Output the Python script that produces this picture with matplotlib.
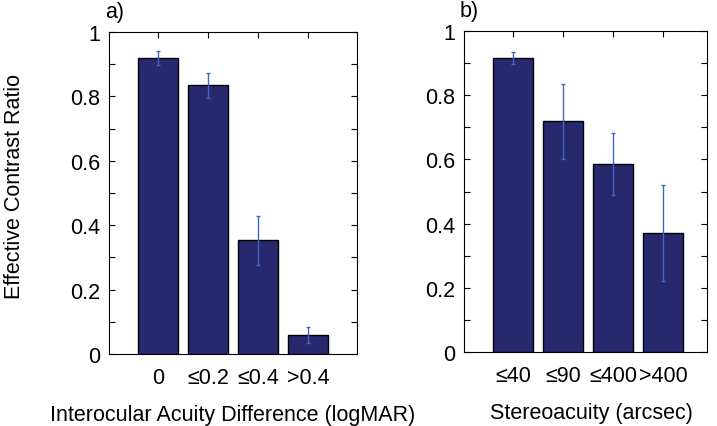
import numpy as np
import matplotlib
matplotlib.use('Agg')
import matplotlib.pyplot as plt

plt.rcParams['font.family'] = ['Liberation Sans', 'DejaVu Sans']

# panel a) interocular acuity difference
acuity_labels = ['0', '≤0.2', '≤0.4', '>0.4']
acuity_vals = [0.920, 0.834, 0.353, 0.058]
acuity_err = [0.022, 0.040, 0.077, 0.025]

# panel b) stereoacuity
stereo_labels = ['≤40', '≤90', '≤400', '>400']
stereo_vals = [0.916, 0.719, 0.586, 0.371]
stereo_err = [0.018, 0.117, 0.096, 0.150]

y_major = [0, 0.2, 0.4, 0.6, 0.8, 1.0]
y_major_labels = ['0', '0.2', '0.4', '0.6', '0.8', '1']
y_minor = [0.1, 0.3, 0.5, 0.7, 0.9]

BAR = '#27296f'
ERR = '#3f66c4'
FS = 15.5

fig = plt.figure(figsize=(7.17, 4.27), dpi=100)
ax1 = fig.add_axes([0.152, 0.1686, 0.346, 0.754])
ax2 = fig.add_axes([0.647, 0.173, 0.339, 0.752])


def panel(ax, labels, vals, err, xlabel, tag, xmax):
    x = np.arange(1, len(vals) + 1)
    ax.bar(x, vals, width=0.8, color=BAR, edgecolor='black', linewidth=1.0, zorder=3)
    ax.errorbar(x, vals, yerr=err, fmt='none', ecolor=ERR, elinewidth=1.0,
                capsize=1.5, capthick=1.0, zorder=4)
    ax.set_xlim(0.02, xmax)
    ax.set_ylim(0, 1)
    ax.set_xticks(x)
    ax.set_xticklabels(labels)
    ax.set_yticks(y_major)
    ax.set_yticklabels(y_major_labels)
    ax.set_yticks(y_minor, minor=True)
    ax.tick_params(axis='y', which='both', direction='in', left=True, right=True,
                   length=4, width=0.8, labelsize=FS, pad=6.5)
    ax.tick_params(axis='x', direction='in', bottom=False, top=True, length=4,
                   width=0.8, labelsize=FS, pad=9)
    ax.set_xlabel(xlabel, fontsize=FS, labelpad=12)
    for s in ax.spines.values():
        s.set_linewidth(0.8)
    ax.text(-0.016, 1.03, tag, transform=ax.transAxes, fontsize=FS, ha='left', va='bottom')


panel(ax1, acuity_labels, acuity_vals, acuity_err,
      'Interocular Acuity Difference (logMAR)', 'a)', 4.98)
panel(ax2, stereo_labels, stereo_vals, stereo_err, 'Stereoacuity (arcsec)', 'b)', 4.88)
ax2.xaxis.label.set_x(0.523)
fig.text(15 / 717, 0.563, 'Effective Contrast Ratio', fontsize=FS, rotation=90,
         ha='center', va='center')

fig.savefig('out.png', dpi=100)
